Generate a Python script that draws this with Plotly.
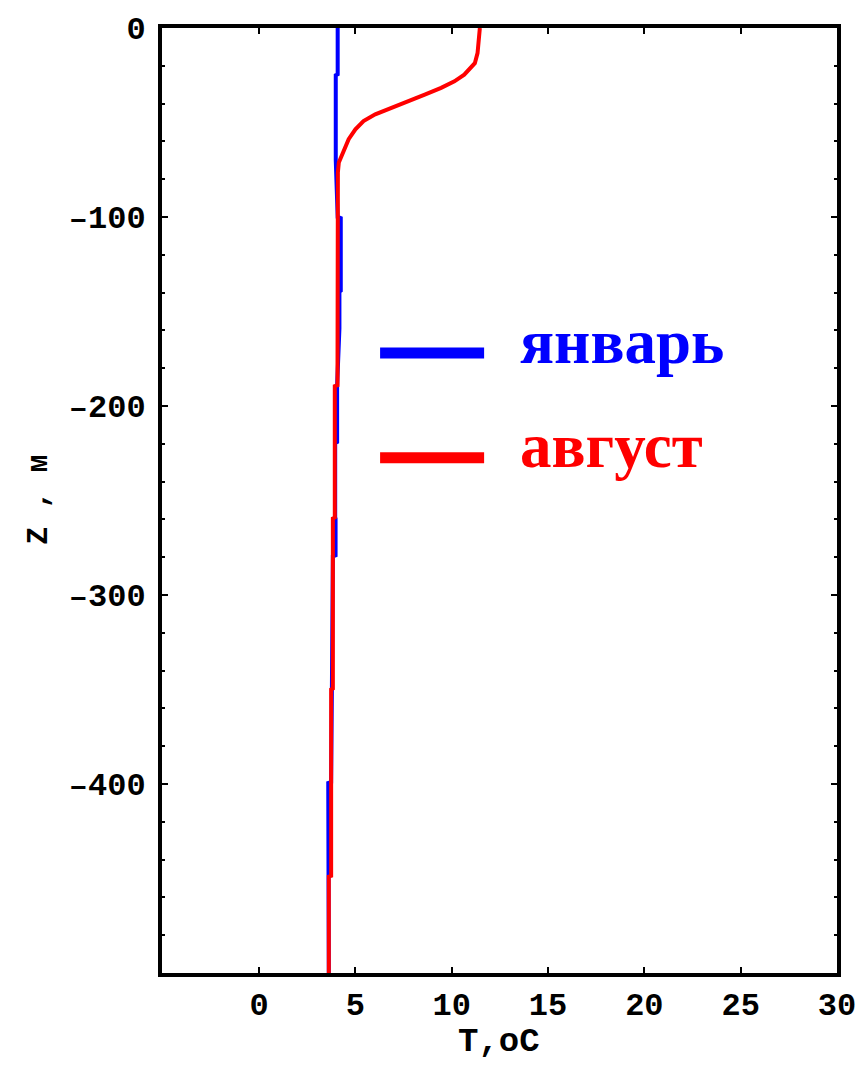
import plotly.graph_objects as go

# Temperature profiles, depth Z (m) vs temperature T (°C)
depth_jan = [0, -24.5, -25, -70, -100, -100.6, -139, -139.5, -159, -189, -189.5,
             -219, -219.5, -259, -259.5, -279, -279.5, -349, -399, -399.5, -449,
             -449.5, -500]
temp_jan = [4.08, 4.08, 3.98, 3.98, 4.08, 4.24, 4.24, 4.17, 4.17, 4.07, 4.05,
            4.05, 3.95, 3.95, 3.97, 3.97, 3.83, 3.78, 3.74, 3.59, 3.59,
            3.62, 3.62]

depth_aug = [0, -6.3, -13.3, -18.6, -21.2, -24.7, -28.2, -31.7, -35.2, -38.7,
             -42.2, -45.7, -49.2, -53.6, -58.8, -64.1, -68.5, -71.1, -76.4,
             -189, -189.5, -259, -259.5, -349.5, -350, -448.6, -449, -500]
temp_aug = [11.46, 11.42, 11.34, 11.2, 10.99, 10.65, 10.14, 9.45, 8.6, 7.74,
            6.88, 6.03, 5.42, 5.0, 4.65, 4.45, 4.28, 4.14, 4.09,
            4.07, 3.93, 3.93, 3.83, 3.83, 3.74, 3.74, 3.62, 3.62]

series_names = ["январь", "август"]
series_colors = ["#0000FF", "#FF0000"]

x_ticks = [0, 5, 10, 15, 20, 25, 30]
y_ticks = [0, -100, -200, -300, -400]
x_range = [-5.04, 30]
y_range = [-500, 0]

tick_font = dict(family="Liberation Mono", size=32, color="black", weight="bold")

fig = go.Figure()
fig.add_trace(go.Scatter(x=temp_jan, y=depth_jan, mode="lines", name=series_names[0],
                         line=dict(color=series_colors[0], width=4)))
fig.add_trace(go.Scatter(x=temp_aug, y=depth_aug, mode="lines", name=series_names[1],
                         line=dict(color=series_colors[1], width=4)))

fig.update_layout(
    width=868, height=1069,
    margin=dict(l=162, r=25, t=21, b=96),
    paper_bgcolor="white", plot_bgcolor="white",
    showlegend=False,
    xaxis=dict(range=x_range, tickmode="array", tickvals=x_ticks,
               ticktext=[str(v) for v in x_ticks],
               showgrid=False, zeroline=False,
               showline=True, linecolor="black", linewidth=4, mirror="allticks",
               ticks="inside", ticklen=6, tickwidth=2, tickcolor="black",
               tickfont=tick_font, ticklabelstandoff=0),
    xaxis2=dict(range=x_range, overlaying="x", side="top", matches="x",
                showgrid=False, zeroline=False, showline=False,
                showticklabels=False, tickmode="array", tickvals=x_ticks,
                ticks="inside", ticklen=6, tickwidth=2, tickcolor="black",
                minor=dict(dtick=1, ticks="inside", ticklen=3, tickwidth=2,
                           tickcolor="black", showgrid=False)),
    yaxis=dict(range=y_range, tickmode="array", tickvals=y_ticks,
               ticktext=[str(v).replace("-", "\u2013") for v in y_ticks],
               showgrid=False, zeroline=False,
               showline=True, linecolor="black", linewidth=4, mirror="allticks",
               ticks="inside", ticklen=6, tickwidth=2, tickcolor="black",
               minor=dict(dtick=20, ticks="inside", ticklen=3, tickwidth=2,
                          tickcolor="black", showgrid=False),
               tickfont=tick_font, ticklabelstandoff=6),
)

# Axis titles
fig.add_annotation(text="T,oC", xref="paper", yref="paper",
                   x=0.4993, y=-0.0725, xanchor="center", yanchor="middle",
                   showarrow=False,
                   font=dict(family="Liberation Mono", size=34, color="black",
                             weight="bold"))
fig.add_annotation(text="Z , м", xref="paper", yref="paper",
                   x=-0.1836, y=0.501, xanchor="center", yanchor="middle",
                   showarrow=False, textangle=-90,
                   font=dict(family="Liberation Mono", size=30, color="black",
                             weight="bold"))

# Legend: line samples with labels inside the plot
legend_rows = [0.656, 0.5452]
for name, color, yrow in zip(series_names, series_colors, legend_rows):
    fig.add_shape(type="line", xref="paper", yref="paper",
                  x0=0.3231, x1=0.4772, y0=yrow, y1=yrow,
                  line=dict(color=color, width=11))
    fig.add_annotation(text="<b>" + name + "</b>", xref="paper", yref="paper",
                       x=0.528, y=yrow + 0.012, xanchor="left", yanchor="middle",
                       showarrow=False,
                       font=dict(family="Liberation Serif", size=63, color=color))

fig.write_html("out.html")
